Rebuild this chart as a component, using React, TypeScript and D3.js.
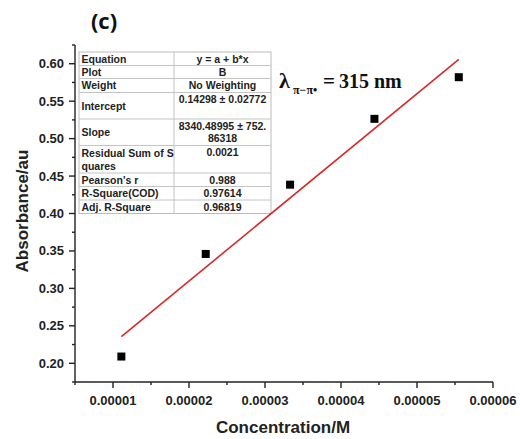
import React from "react";
import * as d3 from "d3";

const concentration = [0.0000111, 0.0000222, 0.0000333, 0.0000444, 0.0000555];
const absorbance = [0.209, 0.346, 0.4385, 0.5264, 0.582];
const fitIntercept = 0.14298;
const fitSlope = 8340.48995;
const xTicks = [0.00001, 0.00002, 0.00003, 0.00004, 0.00005, 0.00006];
const xTickLabels = ["0.00001", "0.00002", "0.00003", "0.00004", "0.00005", "0.00006"];
const xMinorTicks = [0.000005, 0.000015, 0.000025, 0.000035, 0.000045, 0.000055];
const yTicks = [0.2, 0.25, 0.3, 0.35, 0.4, 0.45, 0.5, 0.55, 0.6];
const yMinorTicks = [0.175, 0.225, 0.275, 0.325, 0.375, 0.425, 0.475, 0.525, 0.575, 0.625];

const tableLabels = [
  ["Equation"],
  ["Plot"],
  ["Weight"],
  ["Intercept"],
  ["Slope"],
  ["Residual Sum of S", "quares"],
  ["Pearson's r"],
  ["R-Square(COD)"],
  ["Adj. R-Square"],
];
const tableValues = [
  ["y = a + b*x"],
  ["B"],
  ["No Weighting"],
  ["0.14298 ± 0.02772"],
  ["8340.48995 ± 752.", "86318"],
  ["0.0021"],
  ["0.988"],
  ["0.97614"],
  ["0.96819"],
];
const rowEdges = [52, 65.5, 78.5, 92.5, 119, 145.5, 173, 186.5, 200, 213.5];

export default function App() {
  const W = 520, H = 439;
  const x = d3.scaleLinear().domain([0.000005, 0.00006]).range([75, 493]);
  const y = d3.scaleLinear().domain([0.175, 0.625]).range([382, 45]);
  const font = "Liberation Sans, Arial, sans-serif";
  const x0 = concentration[0], x1 = concentration[concentration.length - 1];
  const line = d3.line<number>().x((d) => x(d)).y((d) => y(fitIntercept + fitSlope * d));
  const tL = 79, tM = 174, tR = 271;

  return (
    <svg width={W} height={H} style={{ position: "absolute", left: 0, top: 0, background: "#fff" }}>
      <rect x={0} y={0} width={W} height={H} fill="#fff" />
      <text x={104} y={29} fontFamily="Open Sans, Liberation Sans, sans-serif" fontSize={22} fontWeight="bold" textAnchor="middle" fill="#111">(c)</text>

      {/* table */}
      <g fontFamily={font} fontSize={10.5} fontWeight="bold" fill="#222">
        <rect x={tL} y={rowEdges[0]} width={tR - tL} height={rowEdges[rowEdges.length - 1] - rowEdges[0]} fill="#fff" stroke="#bbb" strokeWidth={1} />
        {rowEdges.slice(1, -1).map((e, i) => (
          <line key={i} x1={tL} x2={tR} y1={e} y2={e} stroke="#c4c4c4" strokeWidth={1} />
        ))}
        <line x1={tM} x2={tM} y1={rowEdges[0]} y2={rowEdges[rowEdges.length - 1]} stroke="#c4c4c4" strokeWidth={1} />
        {tableLabels.map((lab, i) => {
          const top = rowEdges[i], bot = rowEdges[i + 1];
          const h = bot - top;
          let ys: number[];
          if (lab.length === 2) ys = [top + 11, top + 24];
          else if (h > 20) ys = [(top + bot) / 2 + 4];
          else ys = [top + 10.5];
          return lab.map((t, j) => (
            <text key={i + "-" + j} x={tL + 2.5} y={ys[j]}>{t}</text>
          ));
        })}
        {tableValues.map((val, i) => {
          const top = rowEdges[i];
          return val.map((t, j) => (
            <text key={"v" + i + "-" + j} x={(tM + tR) / 2} y={top + 10.5 + j * 12.5} textAnchor="middle">{t}</text>
          ));
        })}
      </g>

      {/* fit line */}
      <path d={line([x0, x1]) || ""} stroke="#d42a2a" strokeWidth={1.6} fill="none" />

      {/* points */}
      {concentration.map((c, i) => (
        <rect key={i} x={x(c) - 4} y={y(absorbance[i]) - 4} width={8} height={8} fill="#000" />
      ))}

      {/* axes */}
      <g stroke="#222" strokeWidth={1.4}>
        <line x1={75} x2={75} y1={y(0.625)} y2={y(0.175)} />
        <line x1={x(0.000005)} x2={x(0.00006)} y1={382} y2={382} />
        {yTicks.map((t) => <line key={"yt" + t} x1={69} x2={75} y1={y(t)} y2={y(t)} />)}
        {yMinorTicks.map((t) => <line key={"ym" + t} x1={72} x2={75} y1={y(t)} y2={y(t)} />)}
        {xTicks.map((t) => <line key={"xt" + t} x1={x(t)} x2={x(t)} y1={382} y2={388} />)}
        {xMinorTicks.map((t) => <line key={"xm" + t} x1={x(t)} x2={x(t)} y1={382} y2={385} />)}
      </g>
      <g fontFamily={font} fontSize={13} fontWeight="bold" fill="#222">
        {yTicks.map((t) => (
          <text key={"yl" + t} x={64} y={y(t) + 4.5} textAnchor="end">{t.toFixed(2)}</text>
        ))}
        {xTicks.map((t, i) => (
          <text key={"xl" + t} x={x(t)} y={405} textAnchor="middle">{xTickLabels[i]}</text>
        ))}
      </g>
      <text x={283} y={433} fontFamily={font} fontSize={17} fontWeight="bold" textAnchor="middle" fill="#222">Concentration/M</text>
      <text transform="translate(28,211) rotate(-90)" fontFamily={font} fontSize={17} fontWeight="bold" textAnchor="middle" fill="#222">Absorbance/au</text>

      {/* lambda annotation */}
      <g fontFamily="Liberation Serif, Times New Roman, serif" fill="#111">
        <text x={279} y={88} fontSize={22} fontWeight="bold">λ</text>
        <text x={293} y={94} fontSize={12} fontWeight="bold">π−π•</text>
        <text x={323} y={88} fontSize={21} fontWeight="bold">=</text>
        <text x={339} y={88} fontSize={20} fontWeight="bold">315 nm</text>
      </g>
    </svg>
  );
}
